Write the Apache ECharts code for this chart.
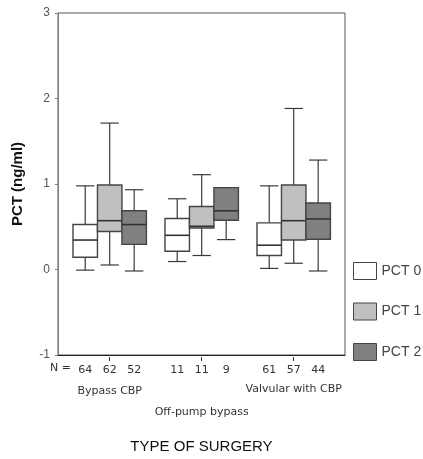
<!DOCTYPE html>
<html>
<head>
<meta charset="utf-8">
<script src="https://cdn.jsdelivr.net/npm/echarts@6/dist/echarts.min.js"></script>
<style>
  html, body { margin: 0; padding: 0; background: #fff; }
  #chart { width: 423px; height: 459px; }
</style>
</head>
<body>
<div id="chart"></div>
<script>
// Surgery groups on the x axis
const categories = ['Bypass CBP', 'Off-pump bypass', 'Valvular with CBP'];

// Box statistics per group: [min, Q1, median, Q3, max] of PCT (ng/ml)
const pct0Stats = [
  [0.01, 0.16, 0.36, 0.54, 0.99],
  [0.11, 0.23, 0.415, 0.61, 0.84],
  [0.03, 0.18, 0.30, 0.56, 0.99]
];
const pct1Stats = [
  [0.07, 0.46, 0.585, 1.00, 1.72],
  [0.18, 0.50, 0.52, 0.75, 1.12],
  [0.09, 0.36, 0.585, 1.00, 1.89]
];
const pct2Stats = [
  [0.00, 0.31, 0.54, 0.70, 0.945],
  [0.365, 0.59, 0.70, 0.97, 0.97],
  [0.00, 0.37, 0.605, 0.79, 1.29]
];

// Number of patients behind each box
const pct0N = [64, 11, 61];
const pct1N = [62, 11, 57];
const pct2N = [52, 9, 44];

// Y axis range and tick step
const yMin = -1, yMax = 3, yStep = 1;

const seriesNames = ['PCT 0', 'PCT 1', 'PCT 2'];
const fills = ['#ffffff', '#c0c0c0', '#808080'];
const lineColor = '#3a3a3a';
const BOX_FRACTION = 0.266;   // box width as a share of the category band
const CAP_FRACTION = 0.75;    // whisker cap width as a share of box width

function toRows(stats, counts) {
  return stats.map((s, i) => [i, s[0], s[1], s[2], s[3], s[4], counts[i]]);
}

function makeRenderer(slot) {
  return function (params, api) {
    const g = api.value(0);
    const band = api.size([1, 0])[0];
    const w = band * BOX_FRACTION;
    const cx = api.coord([g, 0])[0] + (slot - 1) * w;
    const y = v => api.coord([g, v])[1];
    const yLo = y(api.value(1)), yQ1 = y(api.value(2)), yMed = y(api.value(3));
    const yQ3 = y(api.value(4)), yHi = y(api.value(5));
    const cap = w * CAP_FRACTION / 2;
    const ls = { stroke: lineColor, lineWidth: 1.2 };
    const bottom = api.coord([g, yMin])[1];
    return {
      type: 'group',
      children: [
        { type: 'line', shape: { x1: cx, y1: yHi, x2: cx, y2: yQ3 }, style: ls },
        { type: 'line', shape: { x1: cx, y1: yQ1, x2: cx, y2: yLo }, style: ls },
        { type: 'line', shape: { x1: cx - cap, y1: yHi, x2: cx + cap, y2: yHi }, style: ls },
        { type: 'line', shape: { x1: cx - cap, y1: yLo, x2: cx + cap, y2: yLo }, style: ls },
        { type: 'rect', shape: { x: cx - w / 2, y: yQ3, width: w, height: yQ1 - yQ3 },
          style: { fill: fills[slot], stroke: '#444', lineWidth: 1.4 } },
        { type: 'line', shape: { x1: cx - w / 2, y1: yMed, x2: cx + w / 2, y2: yMed },
          style: { stroke: '#333', lineWidth: 1.6 } },
        { type: 'text', style: {
            text: String(api.value(6)), x: cx, y: bottom + 13,
            align: 'center', verticalAlign: 'middle',
            fill: '#333', font: '11px "DejaVu Sans", sans-serif' } }
      ]
    };
  };
}

const chart = echarts.init(document.getElementById('chart'), null, { renderer: 'canvas' });

const statsList = [pct0Stats, pct1Stats, pct2Stats];
const countList = [pct0N, pct1N, pct2N];

const labelFont = '"DejaVu Sans", sans-serif';

chart.setOption({
  animation: false,
  backgroundColor: '#ffffff',
  textStyle: { fontFamily: '"Liberation Sans", Arial, sans-serif' },
  grid: [
    // outer frame
    { left: 58, right: 78, top: 13, bottom: 102, show: true, borderColor: '#555', borderWidth: 1, backgroundColor: 'transparent' },
    // plotting band for the three surgery groups
    { left: 63.7, right: 83.3, top: 13, bottom: 102 }
  ],
  xAxis: [
    {
      gridIndex: 0, type: 'value', min: 0, max: 1,
      axisLine: { show: true, onZero: false, lineStyle: { color: '#222', width: 1 } },
      axisTick: { show: false }, axisLabel: { show: false }, splitLine: { show: false },
      name: 'TYPE OF SURGERY', nameLocation: 'middle', nameGap: 84,
      nameTextStyle: { fontSize: 15, color: '#111', fontFamily: '"Liberation Sans", Arial, sans-serif' }
    },
    {
      gridIndex: 1, type: 'category', data: categories, boundaryGap: true,
      axisLine: { show: false, onZero: false },
      axisTick: { show: true, alignWithLabel: true, length: 4, lineStyle: { color: '#333' } },
      splitLine: { show: false },
      axisLabel: {
        interval: 0, margin: 28, color: '#333', fontSize: 11, fontFamily: labelFont,
        formatter: (v, i) => i === 1 ? '{low|' + v + '}' : (i === 0 ? '{a|' + v + '}' : '{b|' + v + '}'),
        rich: {
          a: { fontSize: 11, fontFamily: labelFont, color: '#333', padding: [1, 0, 0, 0] },
          b: { fontSize: 11, fontFamily: labelFont, color: '#333', padding: [-1, 0, 0, 0] },
          low: { fontSize: 11, fontFamily: labelFont, color: '#333', padding: [22, 0, 0, 0] }
        }
      }
    }
  ],
  yAxis: [
    {
      gridIndex: 0, type: 'value', min: yMin, max: yMax, interval: yStep,
      axisLine: { show: true, onZero: false, lineStyle: { color: '#808080', width: 1 } },
      axisTick: { show: true, length: 3, lineStyle: { color: '#808080' } },
      axisLabel: { margin: 8, color: '#555', fontSize: 12 },
      splitLine: { show: false },
      name: 'PCT (ng/ml)', nameLocation: 'middle', nameRotate: 90, nameGap: 33,
      nameTextStyle: { fontSize: 15, fontWeight: 'bold', color: '#111' }
    },
    { gridIndex: 1, type: 'value', min: yMin, max: yMax, show: false }
  ],
  legend: {
    orient: 'vertical', left: 353, top: 262, padding: 0, icon: 'rect',
    itemWidth: 23, itemHeight: 17, itemGap: 22.5,
    textStyle: { fontSize: 14, color: '#444' },
    data: seriesNames.map((n, i) => ({
      name: n, itemStyle: { color: fills[i], borderColor: '#444', borderWidth: 1 }
    }))
  },
  graphic: [
    { type: 'text', left: 50, top: 363, style: { text: 'N =', fill: '#333', font: '11px ' + labelFont } }
  ],
  series: seriesNames.map((name, k) => ({
    name, type: 'custom', xAxisIndex: 1, yAxisIndex: 1,
    itemStyle: { color: fills[k], borderColor: '#444' },
    encode: { x: 0, y: [1, 2, 3, 4, 5] },
    renderItem: makeRenderer(k),
    data: toRows(statsList[k], countList[k])
  }))
});
</script>
</body>
</html>
